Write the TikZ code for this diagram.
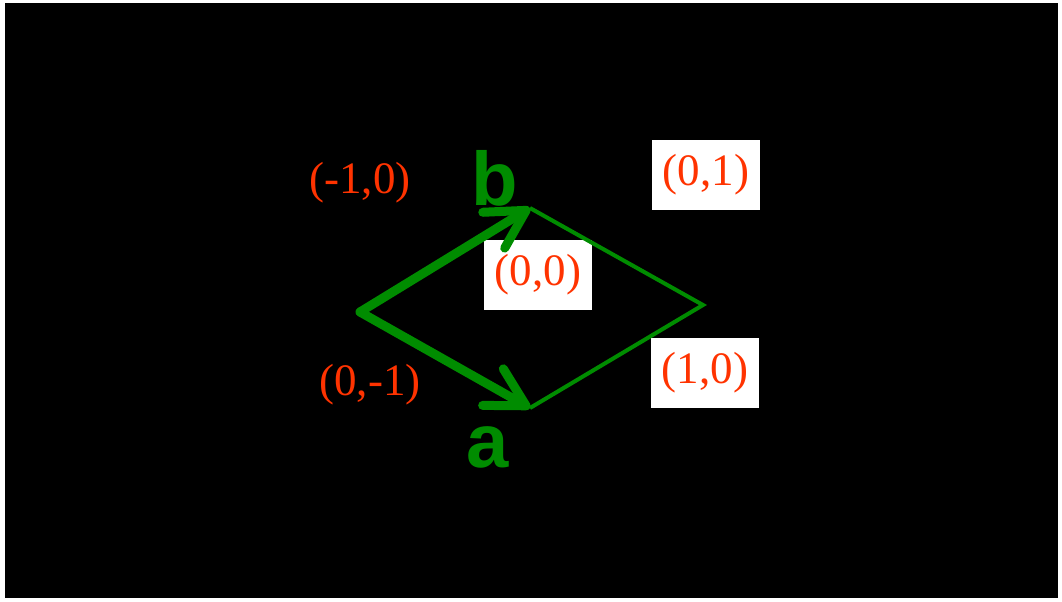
\documentclass[tikz,border=0pt]{standalone}
\usepackage{fontspec}
\setmainfont{Liberation Serif}
\newfontfamily\vecfont{Liberation Sans}
\usetikzlibrary{arrows.meta}
\definecolor{vgreen}{RGB}{0,140,0}
\definecolor{lred}{RGB}{255,51,0}
\tikzset{
  lab/.style={text=lred,font=\fontsize{22.5}{27}\selectfont,inner sep=0pt},
  boxlab/.style={lab,fill=white,minimum width=54pt,minimum height=35pt},
  veclab/.style={text=vgreen,font=\vecfont\bfseries\fontsize{38}{44}\selectfont,inner sep=0pt},
  vec/.style={vgreen,line width=4.5pt,line cap=round,-{Straight Barb[length=19pt,width=21pt,round]}},
  side/.style={vgreen,line width=2pt}
}

\begin{document}
\begin{tikzpicture}[x=0.5pt,y=-0.5pt]
  \useasboundingbox (0,0) rectangle (1062,601);
  \fill[white] (0,0) rectangle (1062,601);
  \fill[black] (5,3) rectangle (1058,598);
  \coordinate (O) at (360,312); \coordinate (B) at (530,208);
  \coordinate (A) at (530,408); \coordinate (C) at (703,305);
  % labelled corners
  \node[boxlab] (l00) at (538,275) {(0,0)};
  \node[boxlab] (l01) at (706,175) {(0,1)};
  \node[boxlab] (l10) at (705,373) {(1,0)};
  \node[lab] (lm10) at (360,183) {(-1,0)};
  \node[lab] (l0m1) at (370,385) {(0,-1)};
  % sides
  \draw[side] (B) -- (C) -- (A);
  \draw[vec] (O) -- (B); \draw[vec] (O) -- (A);
  \node[veclab] (nb) at (495,178) {b};
  \node[veclab] (na) at (488,447) {a};
\end{tikzpicture}
\end{document}
